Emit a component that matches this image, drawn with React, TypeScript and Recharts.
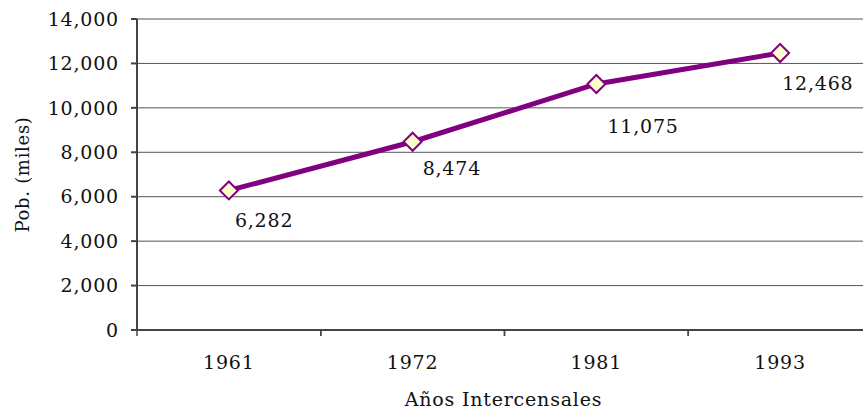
import {
  LineChart,
  Line,
  XAxis,
  YAxis,
  CartesianGrid,
  LabelList,
} from 'recharts'

const years = ['1961', '1972', '1981', '1993']
const population = [6282, 8474, 11075, 12468]
const yTicks = [0, 2000, 4000, 6000, 8000, 10000, 12000, 14000]

const data = years.map((year, i) => ({ year, pob: population[i] }))

// hand-placed label nudges, like the original
const LABEL_NUDGE = [
  { dx: 6, dy: 37 },
  { dx: 10, dy: 33 },
  { dx: 11, dy: 49 },
  { dx: 2, dy: 37 },
]

const FONT = "'DejaVu Serif', serif"
const PURPLE = '#800080'
const fmt = (v: number) => v.toLocaleString('en-US')

const XTick = (props: any) => {
  const { x, y, payload, width, visibleTicksCount } = props
  const band = (width || 735) / (visibleTicksCount || 4)
  const left = x - band / 2
  return (
    <g>
      <line x1={left} y1={y} x2={left} y2={y + 6} stroke="#444" strokeWidth={1.5} />
      <line x1={left + band} y1={y} x2={left + band} y2={y + 6} stroke="#444" strokeWidth={1.5} />
      <text x={x} y={y + 39} textAnchor="middle" fontFamily={FONT} fontSize={19} letterSpacing={0.8} fill="#111">
        {payload.value}
      </text>
    </g>
  )
}

const Diamond = (props: any) => {
  const { cx, cy } = props
  if (cx == null || cy == null) return null
  const r = 9
  return (
    <polygon
      points={`${cx},${cy - r} ${cx + r},${cy} ${cx},${cy + r} ${cx - r},${cy}`}
      fill="#FFFFCC"
      stroke={PURPLE}
      strokeWidth={2}
    />
  )
}

const PointLabel = (props: any) => {
  const { x, y, value, index } = props
  const n = LABEL_NUDGE[index] || { dx: 6, dy: 35 }
  return (
    <text x={x + n.dx} y={y + n.dy} fontFamily={FONT} fontSize={19} letterSpacing={0.8} fill="#111">
      {fmt(value)}
    </text>
  )
}

export default function App() {
  return (
    <div style={{ position: 'fixed', left: 0, top: 0, width: 863, height: 412, overflow: 'hidden', background: '#fff' }}>
      <LineChart width={880} height={412} data={data} margin={{ top: 19, right: 8, bottom: 0, left: 0 }}>
        <CartesianGrid horizontal vertical={false} stroke="#555" strokeWidth={1} />
        <XAxis
          dataKey="year"
          scale="band"
          height={82}
          tickSize={0}
          tickMargin={0}
          tick={<XTick />}
          interval={0}
          stroke="#444"
          strokeWidth={2}
          label={{
            content: (p: any) => {
              const vb = p.viewBox || { x: 137, y: 330, width: 735 }
              return (
                <text x={vb.x + vb.width / 2 - 1} y={vb.y + 76} textAnchor="middle" fontFamily={FONT} fontSize={19} letterSpacing={0.8} fill="#111">
                  Años Intercensales
                </text>
              )
            },
          }}
        />
        <YAxis
          width={137}
          domain={[0, 14000]}
          ticks={yTicks}
          interval={0}
          tickFormatter={fmt}
          tickSize={6}
          tickMargin={12}
          stroke="#444"
          strokeWidth={2}
          tick={{ fontFamily: FONT, fontSize: 19, letterSpacing: 0.8, fill: '#111' }}
          label={{
            content: (p: any) => {
              const vb = p.viewBox || { x: 0, y: 19, width: 137, height: 311 }
              const cx = vb.x + 22
              const cy = vb.y + vb.height / 2
              return (
                <text x={cx} y={cy} transform={`rotate(-90, ${cx}, ${cy})`} textAnchor="middle" dominantBaseline="central" fontFamily={FONT} fontSize={18} letterSpacing={0.7} fill="#111">
                  Pob. (miles)
                </text>
              )
            },
          }}
        />
        <Line
          type="linear"
          dataKey="pob"
          stroke={PURPLE}
          strokeWidth={5}
          dot={<Diamond />}
          activeDot={false}
          isAnimationActive={false}
        >
          <LabelList dataKey="pob" content={<PointLabel />} />
        </Line>
      </LineChart>
    </div>
  )
}
